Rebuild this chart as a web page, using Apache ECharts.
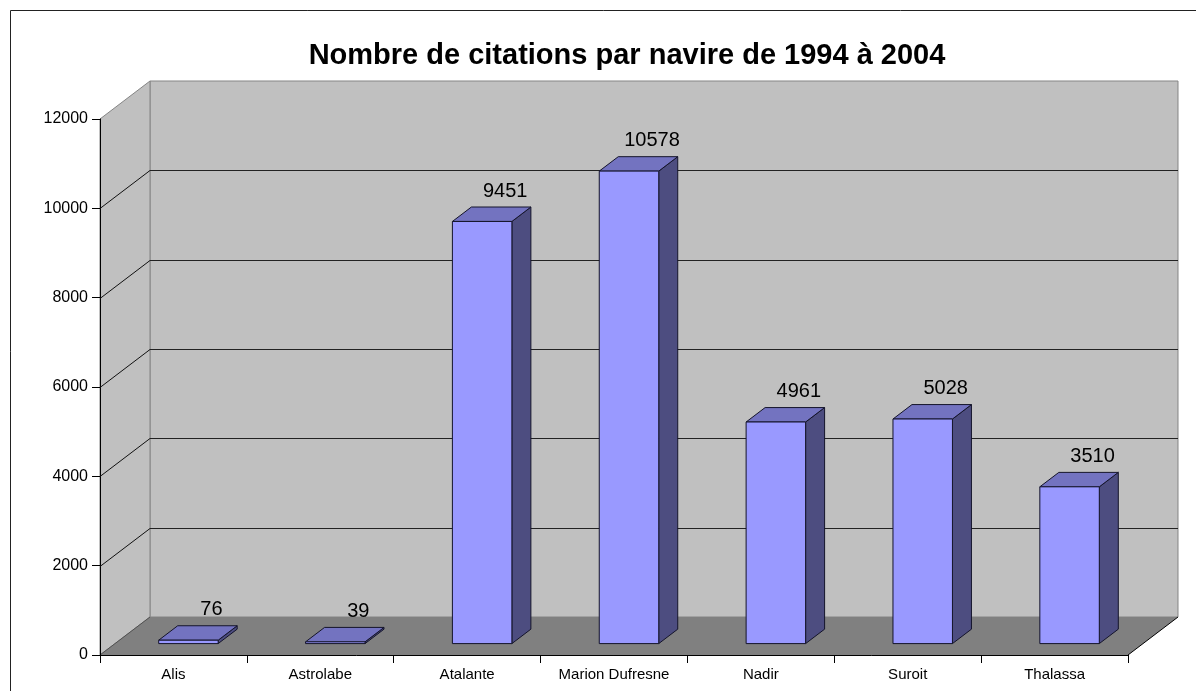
<!DOCTYPE html>
<html>
<head>
<meta charset="utf-8">
<script src="https://cdn.jsdelivr.net/npm/echarts@6/dist/echarts.min.js"></script>
<style>
html, body { margin: 0; padding: 0; background: #fff; }
#chart { width: 1196px; height: 691px; }
</style>
</head>
<body>
<div id="chart"></div>
<script>
// données
const navires = ['Alis', 'Astrolabe', 'Atalante', 'Marion Dufresne', 'Nadir', 'Suroit', 'Thalassa'];
const citations = [76, 39, 9451, 10578, 4961, 5028, 3510];
const yTicks = [0, 2000, 4000, 6000, 8000, 10000, 12000];

const FONT = '"Liberation Sans", Arial, sans-serif';
// profondeur de la scène (décalage du mur du fond)
const DEPTH = [50, -38];
const BAR_FRONT = 0.3, BAR_BACK = 0.68;

// murs + sol
function renderWalls(params, api) {
  const cs = params.coordSys;
  const [dx, dy] = DEPTH;
  const l = cs.x, t = cs.y, r = cs.x + cs.width, b = cs.y + cs.height;
  return {
    type: 'group',
    children: [
      { type: 'rect', shape: { x: l + dx, y: t + dy, width: cs.width, height: cs.height },
        style: { fill: '#c0c0c0', stroke: '#858585', lineWidth: 1 } },
      { type: 'polygon', shape: { points: [[l, t], [l + dx, t + dy], [l + dx, b + dy], [l, b]] },
        style: { fill: '#c0c0c0', stroke: '#858585', lineWidth: 1 } },
      { type: 'polygon', shape: { points: [[l, b], [l + dx, b + dy], [r + dx, b + dy], [r, b]] },
        style: { fill: '#808080' } },
      { type: 'line', shape: { x1: l, y1: b, x2: l + dx, y2: b + dy },
        style: { stroke: '#505050', lineWidth: 1 } },
      { type: 'line', shape: { x1: r, y1: b, x2: r + dx, y2: b + dy },
        style: { stroke: '#000', lineWidth: 1 } }
    ]
  };
}

// lignes de quadrillage sur les murs
function renderGridLine(params, api) {
  const v = api.value(1);
  if (v === 0 || v === 12000) return null;
  const cs = params.coordSys;
  const p = api.coord([0, v]);
  const [dx, dy] = DEPTH;
  const y = Math.round(p[1]) + 0.5;
  return {
    type: 'group',
    children: [
      { type: 'line', shape: { x1: cs.x, y1: y, x2: cs.x + dx, y2: y + dy },
        style: { stroke: '#111', lineWidth: 1 } },
      { type: 'line', shape: { x1: cs.x + dx, y1: y + dy, x2: cs.x + cs.width + dx, y2: y + dy },
        style: { stroke: '#222', lineWidth: 1 } }
    ]
  };
}

// barres 3D
function renderBar(params, api) {
  const i = api.value(0), v = api.value(1);
  const base = api.coord([i, 0]);
  const top = api.coord([i, v]);
  const w = api.size([1, 0])[0] * 0.405;
  const ox = DEPTH[0] * BAR_FRONT, oy = DEPTH[1] * BAR_FRONT;
  const dx = DEPTH[0] * (BAR_BACK - BAR_FRONT), dy = DEPTH[1] * (BAR_BACK - BAR_FRONT);
  const x0 = base[0] - w / 2 + ox, x1 = x0 + w;
  const yb = base[1] + oy, yt = top[1] + oy;
  const edge = { stroke: '#14142a', lineWidth: 1 };
  return {
    type: 'group',
    children: [
      { type: 'polygon', shape: { points: [[x1, yt], [x1 + dx, yt + dy], [x1 + dx, yb + dy], [x1, yb]] },
        style: Object.assign({ fill: '#4d4d80' }, edge) },
      { type: 'polygon', shape: { points: [[x0, yt], [x1, yt], [x1 + dx, yt + dy], [x0 + dx, yt + dy]] },
        style: Object.assign({ fill: '#7373c0' }, edge) },
      { type: 'rect', shape: { x: x0, y: yt, width: w, height: yb - yt },
        style: Object.assign({ fill: '#9999ff' }, edge) },
      { type: 'text', x: (x0 + x1) / 2 + 23, y: yt + dy - 16,
        style: { text: String(v), fill: '#000', font: '20px ' + FONT, align: 'center', verticalAlign: 'middle' } }
    ]
  };
}

const chart = echarts.init(document.getElementById('chart'));
chart.setOption({
  animation: false,
  backgroundColor: '#fff',
  graphic: [
    { type: 'rect', shape: { x: 10.5, y: 10.5, width: 1300, height: 800 },
      style: { fill: 'none', stroke: '#222', lineWidth: 1 }, z: -10 },
    { type: 'text', x: 627, y: 56,
      style: { text: 'Nombre de citations par navire de 1994 à 2004', fill: '#000',
        font: 'bold 29px ' + FONT, align: 'center', verticalAlign: 'middle' } }
  ],
  grid: { left: 100, top: 119, right: 68, bottom: 36, outerBoundsMode: 'none' },
  xAxis: {
    type: 'category',
    data: navires,
    axisLine: { show: true, lineStyle: { color: '#000', width: 1 } },
    axisTick: { show: true, length: 8, interval: 0, lineStyle: { color: '#000' } },
    axisLabel: { interval: 0, margin: 12, color: '#000', fontSize: 15, fontFamily: FONT },
    splitLine: { show: false }
  },
  yAxis: {
    type: 'value',
    min: 0,
    max: 12000,
    interval: 2000,
    axisLine: { show: true, lineStyle: { color: '#000', width: 1 } },
    axisTick: { show: true, length: 8, lineStyle: { color: '#000' } },
    axisLabel: { margin: 12, color: '#000', fontSize: 16, fontFamily: FONT, formatter: v => String(v) },
    splitLine: { show: false }
  },
  series: [
    { type: 'custom', name: 'murs', z: 0, silent: true, renderItem: renderWalls, data: [[0, 0]] },
    { type: 'custom', name: 'quadrillage', z: 1, silent: true, renderItem: renderGridLine,
      data: yTicks.map(v => [0, v]) },
    { type: 'custom', name: 'citations', z: 3, renderItem: renderBar,
      data: citations.map((v, i) => [i, v]) }
  ]
});
</script>
</body>
</html>
